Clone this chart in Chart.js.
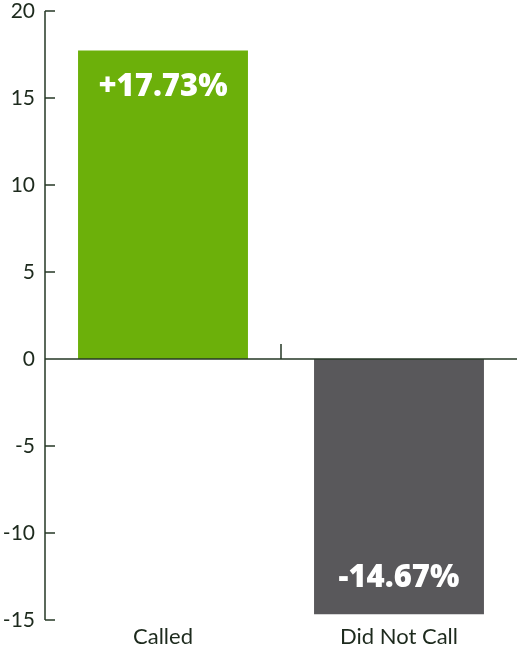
<!DOCTYPE html>
<html>
<head>
    <title>Called vs Did Not Call</title>
    <script src="https://cdn.jsdelivr.net/npm/chart.js"></script>
    <style>
        body { margin: 0; background: #fff; }
    </style>
</head>
<body>
    <canvas id="myChart" width="518" height="651"></canvas>

    <script>
        const categories = ['Called', 'Did Not Call'];
        const changes = [17.73, -14.67];
        const barColors = ['#6cb00a', '#59585b'];
        const valueLabels = ['+17.73%', '-14.67%'];
        const yTicks = [20, 15, 10, 5, 0, -5, -10, -15];

        const axisColor = '#263826';
        const textColor = '#1d2a1d';

        // axis lines and inward ticks, drawn off the scales
        const axisPlugin = {
            id: 'axisLines',
            afterDatasetsDraw(chart) {
                const { ctx, chartArea, scales } = chart;
                const x = scales.x, y = scales.y;
                ctx.save();
                ctx.strokeStyle = axisColor;
                ctx.lineWidth = 1.5;
                ctx.beginPath();
                ctx.moveTo(chartArea.left, y.getPixelForValue(20));
                ctx.lineTo(chartArea.left, y.getPixelForValue(-15));
                yTicks.forEach(v => {
                    const py = y.getPixelForValue(v);
                    ctx.moveTo(chartArea.left, py);
                    ctx.lineTo(chartArea.left + 10, py);
                });
                const zero = y.getPixelForValue(0);
                ctx.moveTo(chartArea.left, zero);
                ctx.lineTo(chartArea.right, zero);
                // separator between the two categories
                const mid = (x.getPixelForValue(0) + x.getPixelForValue(1)) / 2;
                ctx.moveTo(mid, zero);
                ctx.lineTo(mid, zero - 15);
                ctx.stroke();
                ctx.restore();
            }
        };

        // value text inside each bar
        const valuePlugin = {
            id: 'barValues',
            afterDatasetsDraw(chart) {
                const { ctx } = chart;
                const meta = chart.getDatasetMeta(0);
                ctx.save();
                ctx.fillStyle = '#ffffff';
                ctx.font = '800 31px "Open Sans", sans-serif';
                ctx.textAlign = 'center';
                ctx.textBaseline = 'middle';
                meta.data.forEach((bar, i) => {
                    const off = changes[i] >= 0 ? 37 : -36;
                    ctx.fillText(valueLabels[i], bar.x, bar.y + off);
                });
                ctx.restore();
            }
        };

        const ctx = document.getElementById('myChart').getContext('2d');
        const chart = new Chart(ctx, {
            type: 'bar',
            data: {
                labels: categories,
                datasets: [{
                    data: changes,
                    backgroundColor: barColors,
                    categoryPercentage: 0.72,
                    barPercentage: 1
                }]
            },
            options: {
                responsive: false,
                animation: false,
                layout: { padding: { top: 11, right: 1 } },
                plugins: {
                    legend: { display: false },
                    tooltip: { enabled: false }
                },
                scales: {
                    x: {
                        grid: { display: false, drawTicks: false },
                        border: { display: false },
                        ticks: {
                            color: textColor,
                            font: { family: 'Lato, sans-serif', size: 22 },
                            padding: 4
                        },
                        afterFit(scale) {
                            scale.height = 31;
                            scale.paddingLeft = 0;
                            scale.paddingRight = 0;
                        }
                    },
                    y: {
                        min: -15,
                        max: 20,
                        grid: { display: false, drawTicks: false },
                        border: { display: false },
                        ticks: {
                            stepSize: 5,
                            color: textColor,
                            font: { family: 'Lato, sans-serif', size: 21 },
                            padding: 10
                        },
                        afterFit(scale) {
                            scale.width = 45;
                            scale.paddingTop = 0;
                            scale.paddingBottom = 0;
                        }
                    }
                }
            },
            plugins: [axisPlugin, valuePlugin]
        });
    </script>
</body>
</html>
